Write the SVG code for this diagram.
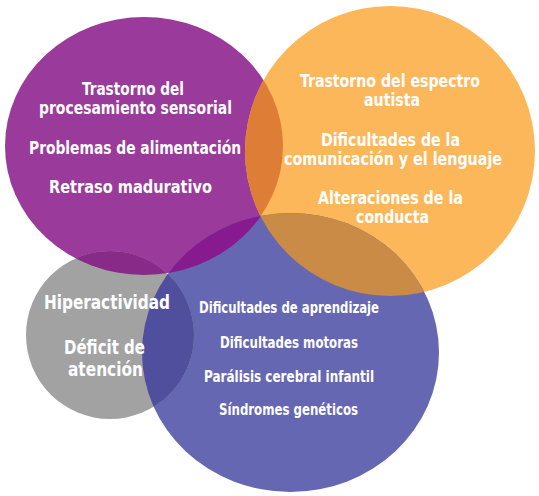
<svg xmlns="http://www.w3.org/2000/svg" width="539" height="496" viewBox="0 0 539 496">
<style>
text{font-family:"Liberation Sans Narrow","DejaVu Sans Condensed","Liberation Sans",sans-serif;font-weight:bold;fill:#ffffff;text-anchor:middle}
.p{font-size:18.5px}
.o{font-size:17.5px}
.g{font-size:20px}
.b{font-size:15px}
</style>
<defs>
<clipPath id="cp"><ellipse cx="144" cy="146" rx="139" ry="129"/></clipPath>
<clipPath id="co"><circle cx="390" cy="151" r="145"/></clipPath>
<clipPath id="cb"><ellipse cx="290.5" cy="352.5" rx="148.5" ry="139.5"/></clipPath>
</defs>
<rect width="539" height="496" fill="#ffffff"/>
<g id="node-purple">
<ellipse cx="144" cy="146" rx="139" ry="129" fill="#9A3A9A"/>
<text class="p" x="133" y="95" textLength="102" lengthAdjust="spacingAndGlyphs">Trastorno del</text>
<text class="p" x="135.5" y="114" textLength="193" lengthAdjust="spacingAndGlyphs">procesamiento sensorial</text>
<text class="p" x="135" y="154" textLength="212" lengthAdjust="spacingAndGlyphs">Problemas de alimentación</text>
<text class="p" x="130.5" y="193" textLength="163" lengthAdjust="spacingAndGlyphs">Retraso madurativo</text>
</g>
<g id="node-orange">
<circle cx="390" cy="151" r="145" fill="#FCB75A"/>
<circle cx="390" cy="151" r="145" fill="#DE7D36" clip-path="url(#cp)"/>
<text class="o" x="390" y="87" textLength="180" lengthAdjust="spacingAndGlyphs">Trastorno del espectro</text>
<text class="o" x="392" y="106" textLength="56" lengthAdjust="spacingAndGlyphs">autista</text>
<text class="o" x="390.5" y="146" textLength="139" lengthAdjust="spacingAndGlyphs">Dificultades de la</text>
<text class="o" x="393" y="165" textLength="218" lengthAdjust="spacingAndGlyphs">comunicación y el lenguaje</text>
<text class="o" x="390.5" y="204" textLength="145" lengthAdjust="spacingAndGlyphs">Alteraciones de la</text>
<text class="o" x="392.5" y="223" textLength="73" lengthAdjust="spacingAndGlyphs">conducta</text>
</g>
<g id="node-blue">
<ellipse cx="290.5" cy="352.5" rx="148.5" ry="139.5" fill="#6667B3"/>
<ellipse cx="290.5" cy="352.5" rx="148.5" ry="139.5" fill="#861A8E" clip-path="url(#cp)"/>
<ellipse cx="290.5" cy="352.5" rx="148.5" ry="139.5" fill="#C98B45" clip-path="url(#co)"/>
<text class="b" x="289" y="313" textLength="180" lengthAdjust="spacingAndGlyphs">Dificultades de aprendizaje</text>
<text class="b" x="289" y="348" textLength="138" lengthAdjust="spacingAndGlyphs">Dificultades motoras</text>
<text class="b" x="289" y="382" textLength="170" lengthAdjust="spacingAndGlyphs">Parálisis cerebral infantil</text>
<text class="b" x="288.5" y="415" textLength="139" lengthAdjust="spacingAndGlyphs">Síndromes genéticos</text>
</g>
<g id="node-gray">
<circle cx="110" cy="335" r="84" fill="#A2A2A2"/>
<circle cx="110" cy="335" r="84" fill="#882A88" clip-path="url(#cp)"/>
<circle cx="110" cy="335" r="84" fill="#4F4F9D" clip-path="url(#cb)"/>
<text class="g" x="107" y="308.5" textLength="126" lengthAdjust="spacingAndGlyphs">Hiperactividad</text>
<text class="g" x="104.5" y="354" textLength="81" lengthAdjust="spacingAndGlyphs">Déficit de</text>
<text class="g" x="105.5" y="376" textLength="75" lengthAdjust="spacingAndGlyphs">atención</text>
</g>
<g id="connectors"/>
</svg>
